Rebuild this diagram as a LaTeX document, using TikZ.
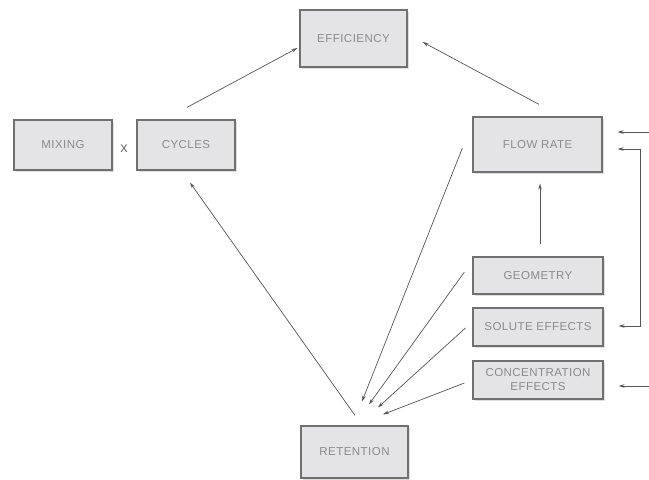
\documentclass[tikz,border=0pt]{standalone}
\usepackage{fontspec}
\setmainfont{Liberation Sans}
\newfontfamily\boxfont[LetterSpace=4]{Liberation Sans}
\usetikzlibrary{arrows.meta,calc,shadows}
\definecolor{boxfill}{HTML}{E4E4E6}
\definecolor{boxline}{HTML}{707070}
\definecolor{boxtext}{HTML}{8A8A8A}
\definecolor{arrline}{HTML}{555555}
\tikzset{
  box/.style={draw=boxline, line width=1.2pt, fill=boxfill, text=boxtext,
    font=\boxfont\fontsize{11.5}{14}\selectfont, align=center, inner sep=0pt,
    drop shadow={opacity=0.25, shadow xshift=1.5pt, shadow yshift=-2pt}},
  arr/.style={draw=arrline, line width=0.7pt, -{Stealth[length=6pt,width=3.5pt]}},
  arrboth/.style={draw=arrline, line width=0.7pt, {Stealth[length=6pt,width=3.5pt]}-{Stealth[length=6pt,width=3.5pt]}}
}
\begin{document}
\begin{tikzpicture}[x=1pt,y=-1pt]
    \useasboundingbox (0,0) rectangle (649,480);
    % boxes
    \node[box, minimum width=107pt, minimum height=57pt] (eff) at (353.5,38.5) {EFFICIENCY};
    \node[box, minimum width=98pt, minimum height=50pt] (mix) at (63,145) {MIXING};
    \node[box, minimum width=98pt, minimum height=50pt] (cyc) at (186,145) {CYCLES};
    \node[text=arrline, font=\fontsize{11}{13}\selectfont] (times) at (124,149) {X};
    \node[box, minimum width=129pt, minimum height=55pt] (flow) at (537.5,144.5) {FLOW RATE};
    \node[box, minimum width=130pt, minimum height=37pt] (geo) at (538,275.5) {GEOMETRY};
    \node[box, minimum width=130pt, minimum height=38pt] (sol) at (538,327) {SOLUTE EFFECTS};
    \node[box, minimum width=130pt, minimum height=38pt] (conc) at (538,380) {CONCENTRATION\\EFFECTS};
    \node[box, minimum width=107pt, minimum height=52pt] (ret) at (354.5,452) {RETENTION};
    \coordinate (inflow) at (649,132);
    \coordinate (inconc) at (649,386);
    % arrows
    \draw[arr] ($(cyc.north)+(1,-12)$) -- ($(eff.west)+(-2,9.5)$);
    \draw[arr] ($(flow.north)+(1.5,-12)$) -- ($(eff.east)+(15,3.5)$);
    \draw[arr] ($(ret.north)+(0.5,-10)$) -- ($(cyc.south)+(4,12)$);
    \draw[arr] ($(flow.west)+(-10,3.5)$) -- ($(ret.north)+(7.5,-24)$);
    \draw[arr] ($(geo.west)+(-8,-3.5)$) -- ($(ret.north)+(14.5,-21)$);
    \draw[arr] ($(sol.west)+(-7,1)$) -- ($(ret.north)+(23.5,-18)$);
    \draw[arr] ($(conc.west)+(-8,3)$) -- ($(ret.north)+(28.5,-11)$);
    \draw[arr] ($(geo.north)+(2,-12)$) -- ($(flow.south)+(2.5,11)$);
    \draw[arr] (inflow) -- ($(flow.east)+(15,-12.5)$);
    \draw[arr] (inconc) -- ($(conc.east)+(15,6)$);
    \draw[arrboth] ($(flow.east)+(15,4.5)$) -- ++(23,0) |- ($(sol.east)+(15,-1)$);
\end{tikzpicture}
\end{document}
